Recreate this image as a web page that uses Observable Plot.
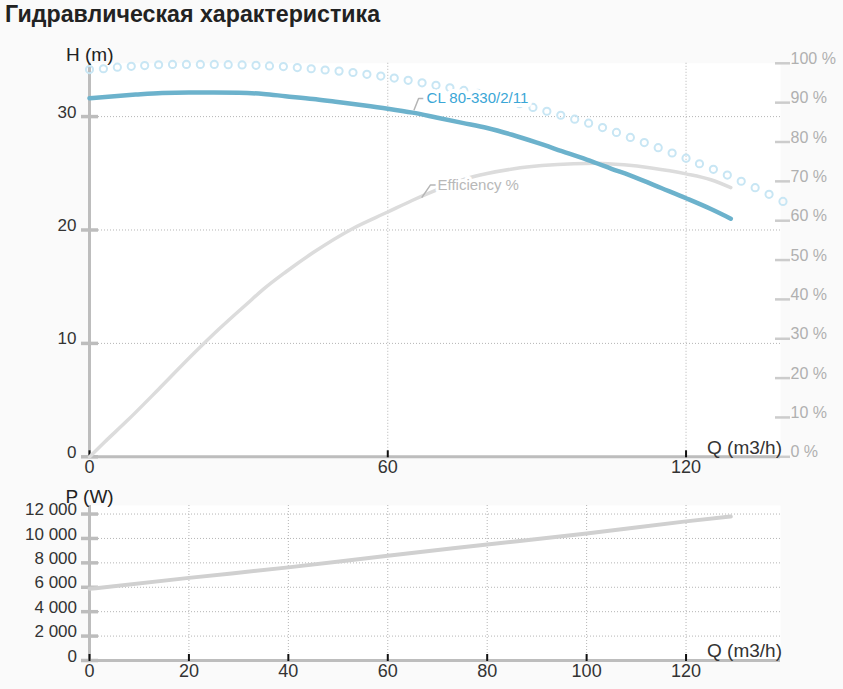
<!DOCTYPE html>
<html><head><meta charset="utf-8">
<script src="https://cdn.jsdelivr.net/npm/d3@7"></script>
<script src="https://cdn.jsdelivr.net/npm/@observablehq/plot@0.6"></script>
<style>
body{margin:0;background:#fafafa;font-family:"Liberation Sans",Arial,sans-serif}
#wrap{position:relative;width:843px;height:689px;overflow:hidden}
#title{position:absolute;left:5px;top:3px;font-weight:bold;font-size:23.2px;line-height:23px;color:#222;white-space:nowrap}
.chart{position:absolute;left:0;width:843px;overflow:hidden}
</style></head><body>
<div id="wrap"><div id="title">Гидравлическая характеристика</div>
<div id="topChart" class="chart" style="top:30px;height:455px"></div>
<div id="botChart" class="chart" style="top:485px;height:204px"></div></div>
<script>
// Head curve H(Q)
const hQ = [0,5,9.3,14.6,20,25,30,35,39.4,45,49.5,55,60,65,70,75,80,85,90,95,100,105,110,115,120,125,129];
const hH = [31.62,31.8,31.94,32.08,32.12,32.12,32.1,32.0,31.8,31.55,31.3,31.0,30.7,30.35,29.9,29.45,29.0,28.4,27.7,26.95,26.2,25.4,24.6,23.7,22.8,21.85,21.0];
// Efficiency curve (%)
const eQ = [0,3,7.6,14,21,26,31.7,35,39.4,45,52.8,60,65,69.6,75.3,80,85.4,91,97.4,102,107.5,113,120,125,129];
const eE = [0,3.7,9.2,17.3,26.3,32.4,38.9,42.6,46.9,51.9,57.9,62.2,65.2,67.7,70.5,72,73.2,74,74.5,74.6,74.2,73.4,71.9,70.4,68.4];
// Dotted (circle) curve
const dotQ = [0,2.8,5.6,8.4,11.1,13.9,16.7,19.5,22.3,25.1,27.9,30.7,33.5,36.2,39.0,41.8,44.6,47.4,50.2,53.0,55.8,58.6,61.3,64.1,66.9,69.7,72.5,75.3,78.1,80.9,83.7,86.5,89.2,92.0,94.8,97.6,100.4,103.2,106.0,108.8,111.6,114.4,117.2,120.0,122.7,125.5,128.3,131.1,133.9,136.7,139.5];
const dotH = [34.15,34.22,34.36,34.43,34.5,34.57,34.6,34.6,34.6,34.6,34.58,34.56,34.52,34.47,34.41,34.32,34.22,34.11,34.01,33.89,33.73,33.57,33.4,33.2,32.98,32.76,32.54,32.31,32.05,31.76,31.45,31.14,30.81,30.47,30.12,29.77,29.42,29.03,28.6,28.16,27.71,27.26,26.79,26.33,25.84,25.35,24.84,24.3,23.73,23.15,22.52];
// Power curve P(Q)
const pQ = [0,20,40,60,80,100,120,129];
const pW = [5870,6770,7630,8590,9500,10410,11400,11800];

// Ticks and labels
const hTicks = [0,10,20,30];
const hTickLabels = ["0","10","20","30"];
const hGrid = [10,20,30];
const effTicks = [0,10,20,30,40,50,60,70,80,90,100];
const effTickLabels = ["0 %","10 %","20 %","30 %","40 %","50 %","60 %","70 %","80 %","90 %","100 %"];
const qTicksTop = [0,60,120];
const qTickLabelsTop = ["0","60","120"];
const qGridTop = [60,120];
const qTicksBot = [0,20,40,60,80,100,120];
const qTickLabelsBot = ["0","20","40","60","80","100","120"];
const qGridBot = [20,40,60,80,100,120];
const pTicks = [0,2000,4000,6000,8000,10000,12000];
const pTickLabels = ["0","2 000","4 000","6 000","8 000","10 000","12 000"];
const pGrid = [2000,4000,6000,8000,10000,12000];

// Labels / annotations
const curveName = "CL 80-330/2/11";
const effName = "Efficiency %";
const cLeaderQ = [65.3,66.2,67.4];
const cLeaderH = [30.6,31.6,31.6];
const eLeaderQ = [66.9,68.6,69.6];
const eLeaderE = [66.0,69.1,69.1];

const xMax = 139, hMax = 34.7, pMax = 12700;
const k = hMax/100; // % -> H units (right axis)

const hData = hQ.map((q,i)=>({q, v:hH[i]}));
const eData = eQ.map((q,i)=>({q, v:eE[i]}));
const dData = dotQ.map((q,i)=>({q, v:dotH[i]}));
const pData = pQ.map((q,i)=>({q, v:pW[i]}));
const cLead = cLeaderQ.map((q,i)=>({q, v:cLeaderH[i]}));
const eLead = eLeaderQ.map((q,i)=>({q, v:eLeaderE[i]}));

const font = "'Liberation Sans', Arial, sans-serif";
const gridStyle = {stroke:"#b5b5b5", strokeWidth:1, strokeDasharray:"1,2"};
const axisGray = "#bdbdbd";

const topPlot = Plot.plot({
  width: 843, height: 455,
  marginLeft: 89, marginRight: 63, marginTop: 32.8, marginBottom: 28.7,
  style: {background:"transparent", fontFamily: font, fontSize:"17px", overflow:"visible"},
  x: {domain:[0,xMax], axis:null},
  y: {domain:[0,hMax], axis:null},
  marks: [
    Plot.frame({fill:"white", stroke:"none"}),
    Plot.ruleY(hGrid, {y:d=>d, ...gridStyle}),
    Plot.ruleX(qGridTop, {x:d=>d, ...gridStyle}),
    Plot.ruleX([0], {stroke:axisGray, strokeWidth:3}),
    Plot.ruleY([0], {stroke:axisGray, strokeWidth:3}),
    Plot.ruleY(hTicks, {y:d=>d, x1:0, x2:0, insetLeft:-8, insetRight:-9, stroke:axisGray, strokeWidth:3.5}),
    Plot.ruleY(effTicks, {y:d=>d*k, x1:xMax, x2:xMax, insetLeft:-5, insetRight:-10, stroke:"#cccccc", strokeWidth:2.5}),
    Plot.text(hTicks, {y:d=>d, frameAnchor:"left", textAnchor:"end", dx:-13, dy:-4.5, text:(d,i)=>hTickLabels[i], fill:"#333", fontSize:17}),
    Plot.text(effTicks, {y:d=>d*k, frameAnchor:"right", textAnchor:"start", dx:10, dy:-4.5, text:(d,i)=>effTickLabels[i], fill:"#b0b0b0", fontSize:16}),
    Plot.ruleX(qTicksTop, {x:d=>d, y1:0, y2:0, insetTop:-6, insetBottom:-1, stroke:"#111", strokeWidth:2}),
    Plot.text(qTicksTop, {x:d=>d, frameAnchor:"bottom", lineAnchor:"top", dy:3.7, text:(d,i)=>qTickLabelsTop[i], fill:"#333", fontSize:18}),
    Plot.text(["H (m)"], {frameAnchor:"top-left", textAnchor:"start", lineAnchor:"bottom", dx:-23.5, dy:-2.8, text:d=>d, fill:"#222", fontSize:19}),
    Plot.text(["Q (m3/h)"], {frameAnchor:"bottom-right", textAnchor:"end", lineAnchor:"bottom", dx:1.5, dy:-3, text:d=>d, fill:"#333", fontSize:19}),
    Plot.dot(dData, {x:"q", y:"v", r:3.6, stroke:"#c8e6f4", strokeWidth:2, fill:"none"}),
    Plot.line(eData, {x:"q", y:d=>d.v*k, stroke:"#dcdcdc", strokeWidth:3.5, curve:"monotone-x"}),
    Plot.line(hData, {x:"q", y:"v", stroke:"#6cb2cc", strokeWidth:4.5, curve:"monotone-x"}),
    Plot.line(cLead, {x:"q", y:"v", stroke:"#b5b5b5", strokeWidth:1.5}),
    Plot.line(eLead, {x:"q", y:d=>d.v*k, stroke:"#b5b5b5", strokeWidth:1.5}),
    Plot.text([curveName], {x:()=>cLeaderQ[2], y:()=>cLeaderH[2], textAnchor:"start", lineAnchor:"middle", dx:2, text:d=>d, fill:"#3aa6d6", fontSize:15, stroke:"white", strokeWidth:8}),
    Plot.text([effName], {x:()=>eLeaderQ[2], y:()=>eLeaderE[2]*k, textAnchor:"start", lineAnchor:"middle", dx:2, text:d=>d, fill:"#b8b8b8", fontSize:15, stroke:"white", strokeWidth:6})
  ]
});
document.getElementById("topChart").appendChild(topPlot);

const botPlot = Plot.plot({
  width: 843, height: 204,
  marginLeft: 89, marginRight: 63, marginTop: 20, marginBottom: 29,
  style: {background:"transparent", fontFamily: font, fontSize:"17px", overflow:"visible"},
  x: {domain:[0,xMax], axis:null},
  y: {domain:[0,pMax], axis:null},
  marks: [
    Plot.frame({fill:"white", stroke:"none"}),
    Plot.ruleY(pGrid, {y:d=>d, ...gridStyle}),
    Plot.ruleX(qGridBot, {x:d=>d, ...gridStyle}),
    Plot.ruleX([0], {stroke:axisGray, strokeWidth:3}),
    Plot.ruleY([0], {stroke:axisGray, strokeWidth:3}),
    Plot.ruleY(pTicks, {y:d=>d, x1:0, x2:0, insetLeft:-8, insetRight:-9, stroke:axisGray, strokeWidth:3.5}),
    Plot.text(pTicks, {y:d=>d, frameAnchor:"left", textAnchor:"end", dx:-12.5, dy:-4.3, text:(d,i)=>pTickLabels[i], fill:"#333", fontSize:17}),
    Plot.ruleX(qTicksBot, {x:d=>d, y1:0, y2:0, insetTop:-6, insetBottom:-1, stroke:"#111", strokeWidth:2}),
    Plot.text(qTicksBot, {x:d=>d, frameAnchor:"bottom", lineAnchor:"top", dy:3.3, text:(d,i)=>qTickLabelsBot[i], fill:"#333", fontSize:18}),
    Plot.text(["P (W)"], {frameAnchor:"top-left", textAnchor:"start", lineAnchor:"bottom", dx:-24, dy:-2.5, text:d=>d, fill:"#222", fontSize:19}),
    Plot.text(["Q (m3/h)"], {frameAnchor:"bottom-right", textAnchor:"end", lineAnchor:"bottom", dx:1.5, dy:-3.5, text:d=>d, fill:"#333", fontSize:19}),
    Plot.line(pData, {x:"q", y:"v", stroke:"#d0d0d0", strokeWidth:4, curve:"monotone-x"})
  ]
});
document.getElementById("botChart").appendChild(botPlot);
</script>
</body></html>
